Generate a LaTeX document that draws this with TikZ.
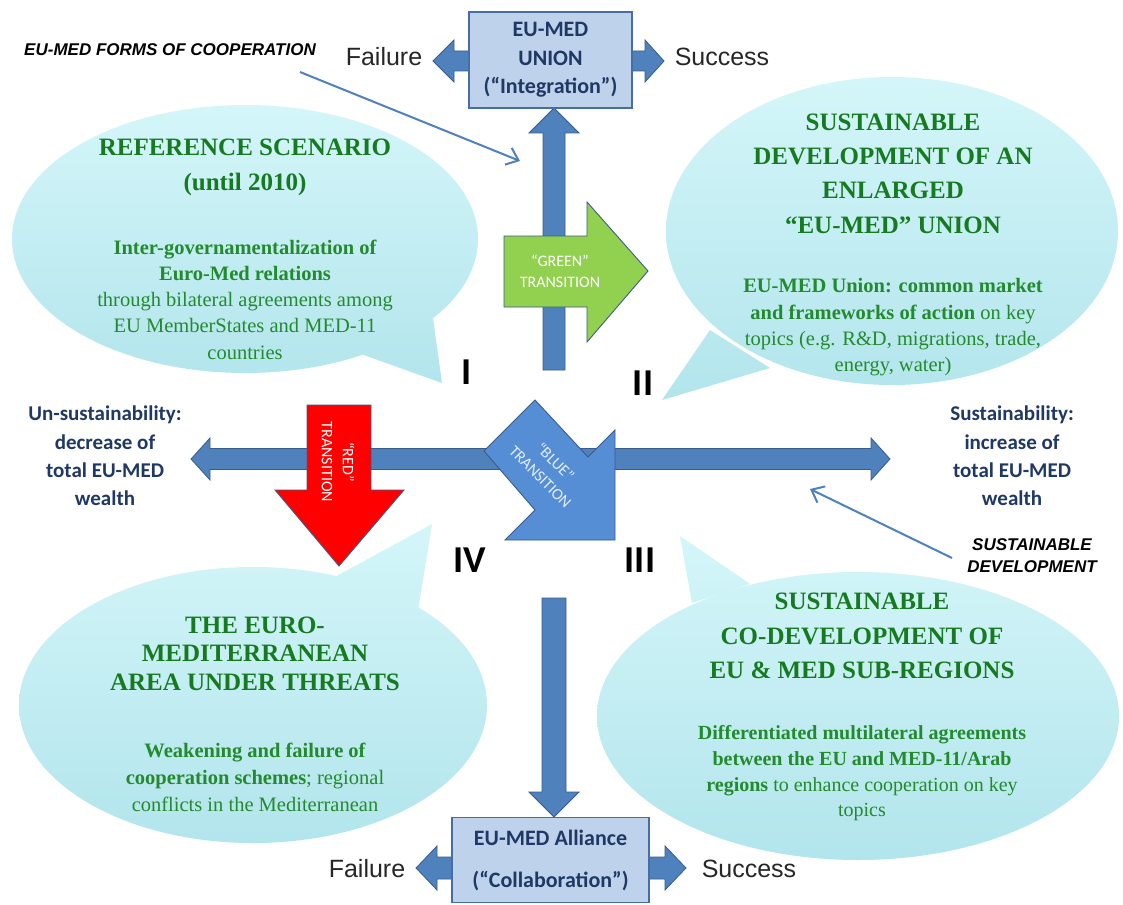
\documentclass[tikz,border=0pt]{standalone}
\usepackage{fontspec}
\setmainfont{Liberation Serif}
\newfontfamily\calib{Carlito}
\newfontfamily\arial{Liberation Sans}
\usetikzlibrary{arrows.meta}
\definecolor{bubtop}{RGB}{212,246,249}
\definecolor{bubbot}{RGB}{178,229,236}
\definecolor{gtitle}{RGB}{22,122,32}
\definecolor{gbody}{RGB}{35,138,45}
\definecolor{navy}{RGB}{31,56,100}
\definecolor{arrfill}{RGB}{79,129,189}
\definecolor{arrline}{RGB}{56,93,138}
\definecolor{boxfill}{RGB}{190,210,235}
\definecolor{boxline}{RGB}{70,110,165}
\definecolor{greenarr}{RGB}{146,208,80}
\definecolor{bluearr}{RGB}{85,142,213}
\definecolor{bluetxt}{RGB}{225,238,252}
\begin{document}
\begin{tikzpicture}[x=1pt,y=-1pt,
  bubsh/.style={top color=bubtop,bottom color=bubbot,draw=none},
  barrow/.style={fill=arrfill,draw=arrline,line width=0.8pt,line join=miter},
  boxst/.style={draw=boxline,fill=boxfill,line width=1.2pt,text=navy,font=\calib\bfseries\fontsize{22}{28.5}\selectfont,align=center,inner sep=0pt},
  ttl/.style={text=gtitle,font=\bfseries\fontsize{25}{34.3}\selectfont,align=center,inner sep=0pt},
  bdy/.style={text=gbody,font=\fontsize{20.5}{26.3}\selectfont,align=center,inner sep=0pt},
  axtext/.style={text=navy,font=\calib\bfseries\fontsize{21}{28.3}\selectfont,align=center,inner sep=0pt},
  fstext/.style={text=black!85,font=\arial\fontsize{25}{30}\selectfont,inner sep=0pt},
  notetext/.style={text=black,font=\arial\bfseries\itshape\fontsize{17}{22}\selectfont,align=center,inner sep=0pt},
  numtext/.style={text=black,font=\calib\bfseries\fontsize{38}{40}\selectfont,inner sep=0pt},
  transtext/.style={text=white,font=\calib\fontsize{16}{21}\selectfont,align=center,inner sep=0pt},
  pointer/.style={draw=arrfill,line width=2pt,-{Straight Barb[length=11pt,width=18pt]}},
]
\useasboundingbox (0,0) rectangle (1123,904);
\fill[white] (0,0) rectangle (1123,904);

% ---- bubbles ----
% I
\shade[bubsh] (12,105) (478,384) (245,239) ellipse [x radius=233pt, y radius=134pt];
\shade[bubsh] (12,105) (478,384) (433,318) -- (442,383) -- (361,354) -- cycle;
% II
\shade[bubsh] (666,77) (1118,401) (892,231) ellipse [x radius=226pt, y radius=154pt];
\shade[bubsh] (666,77) (1118,401) (710,330) -- (662,400) -- (770,368) -- cycle;
% III
\shade[bubsh] (597,536) (1119,860) (858,716) ellipse [x radius=261pt, y radius=144pt];
\shade[bubsh] (597,536) (1119,860) (692,603) -- (680,536) -- (750,584) -- cycle;
% IV
\shade[bubsh] (19,522) (487,843) (253,705) ellipse [x radius=234pt, y radius=138pt];
\shade[bubsh] (19,522) (487,843) (333,578) -- (432,524) -- (418,611) -- cycle;

% ---- axes ----
\draw[barrow] (191,459) -- (210,438) -- (210,448.5) -- (871,448.5) -- (871,438) -- (890,459) -- (871,480) -- (871,469.5) -- (210,469.5) -- (210,480) -- cycle;
\draw[barrow] (554,108) -- (579,133) -- (565,133) -- (565,370) -- (543,370) -- (543,133) -- (529,133) -- cycle;
\draw[barrow] (554,817) -- (579,792) -- (566,792) -- (566,598) -- (542,598) -- (542,792) -- (529,792) -- cycle;

% failure / success arrows
\draw[barrow] (433,61) -- (454,40) -- (454,51) -- (472,51) -- (472,71) -- (454,71) -- (454,82) -- cycle;
\draw[barrow] (664,61) -- (645,40) -- (645,51) -- (630,51) -- (630,71) -- (645,71) -- (645,82) -- cycle;
\draw[barrow] (416,868) -- (437,846) -- (437,857) -- (454,857) -- (454,879) -- (437,879) -- (437,890) -- cycle;
\draw[barrow] (686,868) -- (665,846) -- (665,857) -- (647,857) -- (647,879) -- (665,879) -- (665,890) -- cycle;

% boxes
\node[boxst,minimum width=163pt,minimum height=96pt] (union) at (550.5,60) {EU-MED\\UNION\\(“Integration”)};
\node[boxst,minimum width=197pt,minimum height=85pt,font=\calib\bfseries\fontsize{22}{42}\selectfont] (alliance) at (550.5,860) {EU-MED Alliance\\(“Collaboration”)};

% transitions
\draw[fill=greenarr,draw=arrline,line width=0.9pt] (504,236) -- (587,236) -- (587,202) -- (648,271) -- (587,342) -- (587,307) -- (504,307) -- cycle;
\node[transtext] (green) at (560,271) {“GREEN”\\TRANSITION};
\draw[fill=red,draw=arrline,line width=0.9pt] (307,405) -- (371,405) -- (371,490) -- (404,490) -- (339,566) -- (275,490) -- (307,490) -- cycle;
\node[transtext,rotate=-90] (redt) at (338,462) {“RED”\\TRANSITION};
\draw[fill=bluearr,draw=arrline,line width=0.9pt] (535,400) -- (588,457) -- (615,430) -- (615,540) -- (505,540) -- (535,510) -- (484,451) -- cycle;
\node[transtext,rotate=-45,text=bluetxt] (bluet) at (548,469) {“BLUE”\\TRANSITION};

% numerals
\node[numtext] (q1) at (467,372) {I};
\node[numtext] (q2) at (643,383) {II};
\node[numtext] (q3) at (640,560) {III};
\node[numtext] (q4) at (470,560) {IV};

% axis texts
\node[axtext] (unsust) at (105,456) {Un-sustainability:\\decrease of\\total EU-MED\\wealth};
\node[axtext] (sust) at (1012,456) {Sustainability:\\increase of\\total EU-MED\\wealth};
\node[fstext] (failT) at (384,57) {Failure};
\node[fstext] (succT) at (722,57) {Success};
\node[fstext] (failB) at (367,869) {Failure};
\node[fstext] (succB) at (749,869) {Success};

% notes and pointers
\node[notetext] (forms) at (170,50) {EU-MED FORMS OF COOPERATION};
\node[notetext] (sdev) at (1032,556) {SUSTAINABLE\\DEVELOPMENT};
\coordinate (p1s) at (300,72);
\coordinate (p1e) at (520,161);
\coordinate (p2s) at (952,558);
\coordinate (p2e) at (810,489);
\draw[pointer] (p1s) -- (p1e);
\draw[pointer] (p2s) -- (p2e);

% bubble texts
\node[ttl] (t1) at (245,167.5) {REFERENCE SCENARIO\\(until 2010)};
\node[bdy] (b1) at (245,299.5) {{\bfseries Inter-governamentalization of}\\{\bfseries Euro-Med relations}\\through bilateral agreements among\\EU MemberStates and MED-11\\countries};
\node[ttl] (t2) at (893,173.5) {SUSTAINABLE\\DEVELOPMENT OF AN\\ENLARGED\\“EU-MED” UNION};
\node[bdy] (b2) at (893,327.5) {{\bfseries EU-MED Union: common market}\\{\bfseries and frameworks of action} on key\\topics (e.g. R\&D, migrations, trade,\\energy, water)};
\node[ttl] (t3) at (862,636) {SUSTAINABLE\\CO-DEVELOPMENT OF\\EU \& MED SUB-REGIONS};
\node[bdy,font=\fontsize{20}{25.7}\selectfont] (b3) at (862,773.5) {{\bfseries Differentiated multilateral agreements}\\{\bfseries between the EU and MED-11/Arab}\\{\bfseries regions} to enhance cooperation on key\\topics};
\node[ttl,font=\bfseries\fontsize{25}{28.5}\selectfont] (t4) at (255,653.5) {THE EURO-\\MEDITERRANEAN\\AREA UNDER THREATS};
\node[bdy,font=\fontsize{20.5}{27}\selectfont] (b4) at (255,777) {{\bfseries Weakening and failure of}\\{\bfseries cooperation schemes}; regional\\conflicts in the Mediterranean};
\end{tikzpicture}
\end{document}
